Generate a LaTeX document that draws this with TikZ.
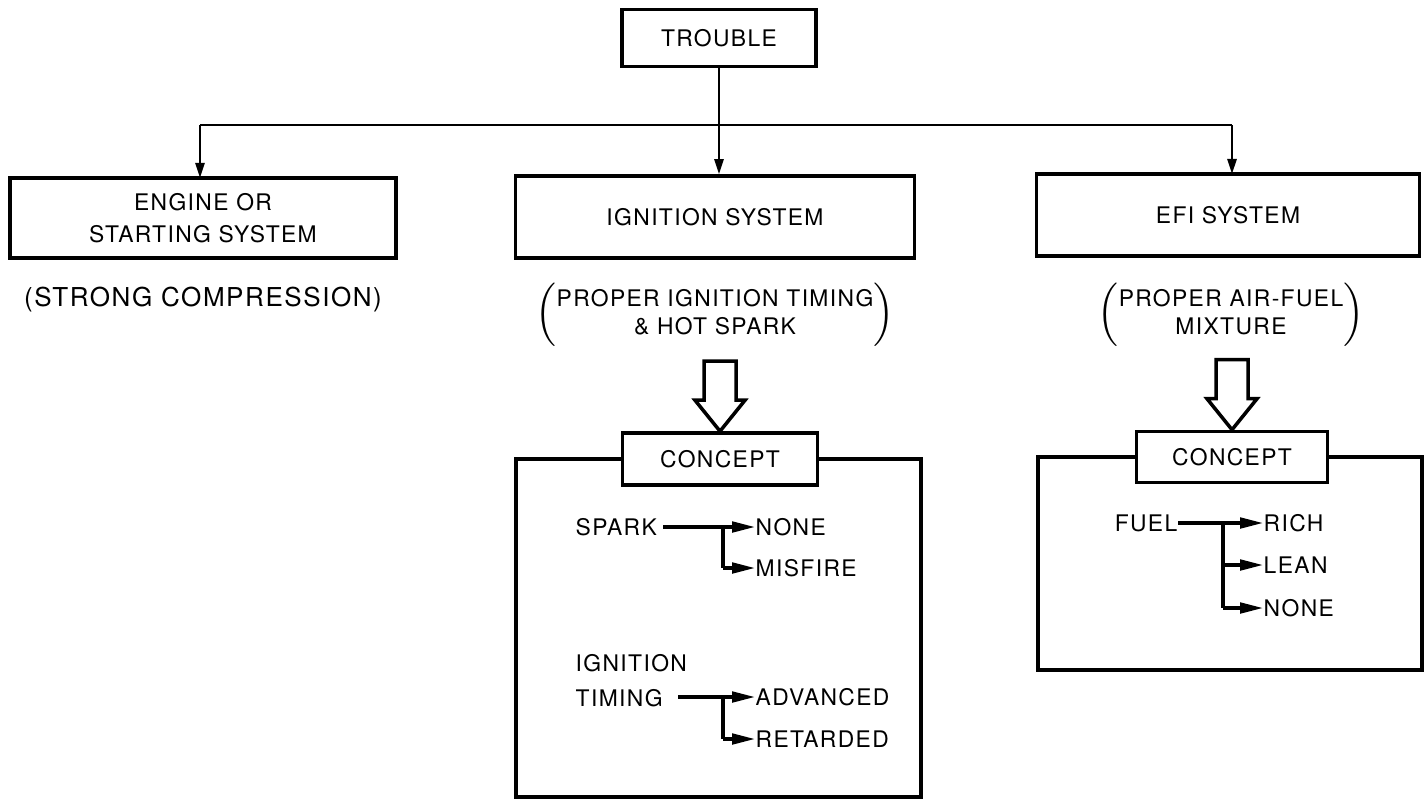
\documentclass[tikz,border=0pt]{standalone}
\usepackage{fontspec}
\setmainfont{TeX Gyre Heros}[LetterSpace=6]
\usetikzlibrary{arrows.meta,positioning}

\begin{document}
\begin{tikzpicture}[x=0.01cm,y=-0.01cm,font=\fontsize{6.5}{9}\selectfont,
  box/.style={draw,line width=1pt,align=center,inner sep=0pt,fill=white},
  lbl/.style={inner sep=0pt},
  note/.style={font=\fontsize{6.5}{7.8}\selectfont},
  link/.style={-{Triangle[length=4.3pt,width=2.6pt]},line width=0.7pt},
  branch/.style={-{Triangle[length=6.5pt,width=3pt]},line width=0.9pt},
  frame/.style={draw,line width=1pt},
  hollow/.style={draw,line width=1pt,fill=white,line join=miter}]
\useasboundingbox (0,0) rectangle (1428,800);
% top level
\node[box,minimum width=1.94cm,minimum height=0.57cm] (trouble) at (719,38) {TROUBLE};
\node[box,minimum width=3.86cm,minimum height=0.80cm] (eng) at (203,218) {ENGINE OR\\STARTING SYSTEM};
\node[box,minimum width=3.99cm,minimum height=0.82cm] (ign) at (715,217) {IGNITION SYSTEM};
\node[box,minimum width=3.83cm,minimum height=0.82cm] (efi) at (1228,215) {EFI SYSTEM};
\coordinate (split) at (719,125);
\draw[line width=0.7pt] (split -| 200,0) -- (split -| 1232,0);
\draw[line width=0.7pt] (trouble.south) -- (split);
\draw[link] (split -| 200,0) -- (200,178);
\draw[link] (split) -- (split |- ign.north);
\draw[link] (split -| 1232,0) -- (1232,174);
% conditions
\node[font=\fontsize{7.4}{9}\selectfont] (engnote) at (203,300) {(STRONG COMPRESSION)};
\node[note] (ignnote) at (715,315) {$\left(\vcenter{\hbox{\begin{tabular}{@{}c@{}}PROPER IGNITION TIMING\\ \& HOT SPARK\end{tabular}}}\right)$};
\node[note] (efinote) at (1231,315) {$\left(\vcenter{\hbox{\begin{tabular}{@{}c@{}}PROPER AIR-FUEL\\ MIXTURE\end{tabular}}}\right)$};
% ignition concept
\node[box,minimum width=1.95cm,minimum height=0.52cm] (igncpt) at (720,459) {CONCEPT};
\draw[frame] (igncpt.west) -- (516,459) -- (516,797) -- (921,797) -- (921,459) -- (igncpt.east);
\draw[hollow] (igncpt.north) -- ++(-25,-31) -- ++(9,0) -- ++(0,-39) -- ++(32,0) -- ++(0,39) -- ++(9,0) -- cycle;
\node[lbl,anchor=west] (spark) at (575,527) {SPARK};
\node[lbl,anchor=west] (snone) at (755,527) {NONE};
\node[lbl,anchor=west] (smis) at (755,568) {MISFIRE};
\draw[branch] (663,527) -- (snone.west);
\draw[line width=0.9pt] (723,527) -- (723,568);
\draw[branch] (723,568) -- (smis.west);
\node[lbl,anchor=west,align=left] (itime) at (575,681) {IGNITION\\[1pt]TIMING};
\node[lbl,anchor=west] (adv) at (755,697) {ADVANCED};
\node[lbl,anchor=west] (ret) at (755,739) {RETARDED};
\draw[branch] (678,697) -- (adv.west);
\draw[line width=0.9pt] (723,697) -- (723,739);
\draw[branch] (723,739) -- (ret.west);
% efi concept
\node[box,minimum width=1.91cm,minimum height=0.51cm] (eficpt) at (1232,457) {CONCEPT};
\draw[frame] (eficpt.west) -- (1038,457) -- (1038,670) -- (1422,670) -- (1422,457) -- (eficpt.east);
\draw[hollow] (eficpt.north) -- ++(-25,-31) -- ++(9,0) -- ++(0,-39) -- ++(32,0) -- ++(0,39) -- ++(9,0) -- cycle;
\node[lbl,anchor=east] (fuel) at (1178,523) {FUEL};
\node[lbl,anchor=west] (rich) at (1263,523) {RICH};
\node[lbl,anchor=west] (lean) at (1263,565) {LEAN};
\node[lbl,anchor=west] (fnone) at (1263,608) {NONE};
\draw[branch] (fuel.east) -- (rich.west);
\draw[line width=0.9pt] (1223,523) -- (1223,608);
\draw[branch] (1223,565) -- (lean.west);
\draw[branch] (1223,608) -- (fnone.west);
\end{tikzpicture}
\end{document}
